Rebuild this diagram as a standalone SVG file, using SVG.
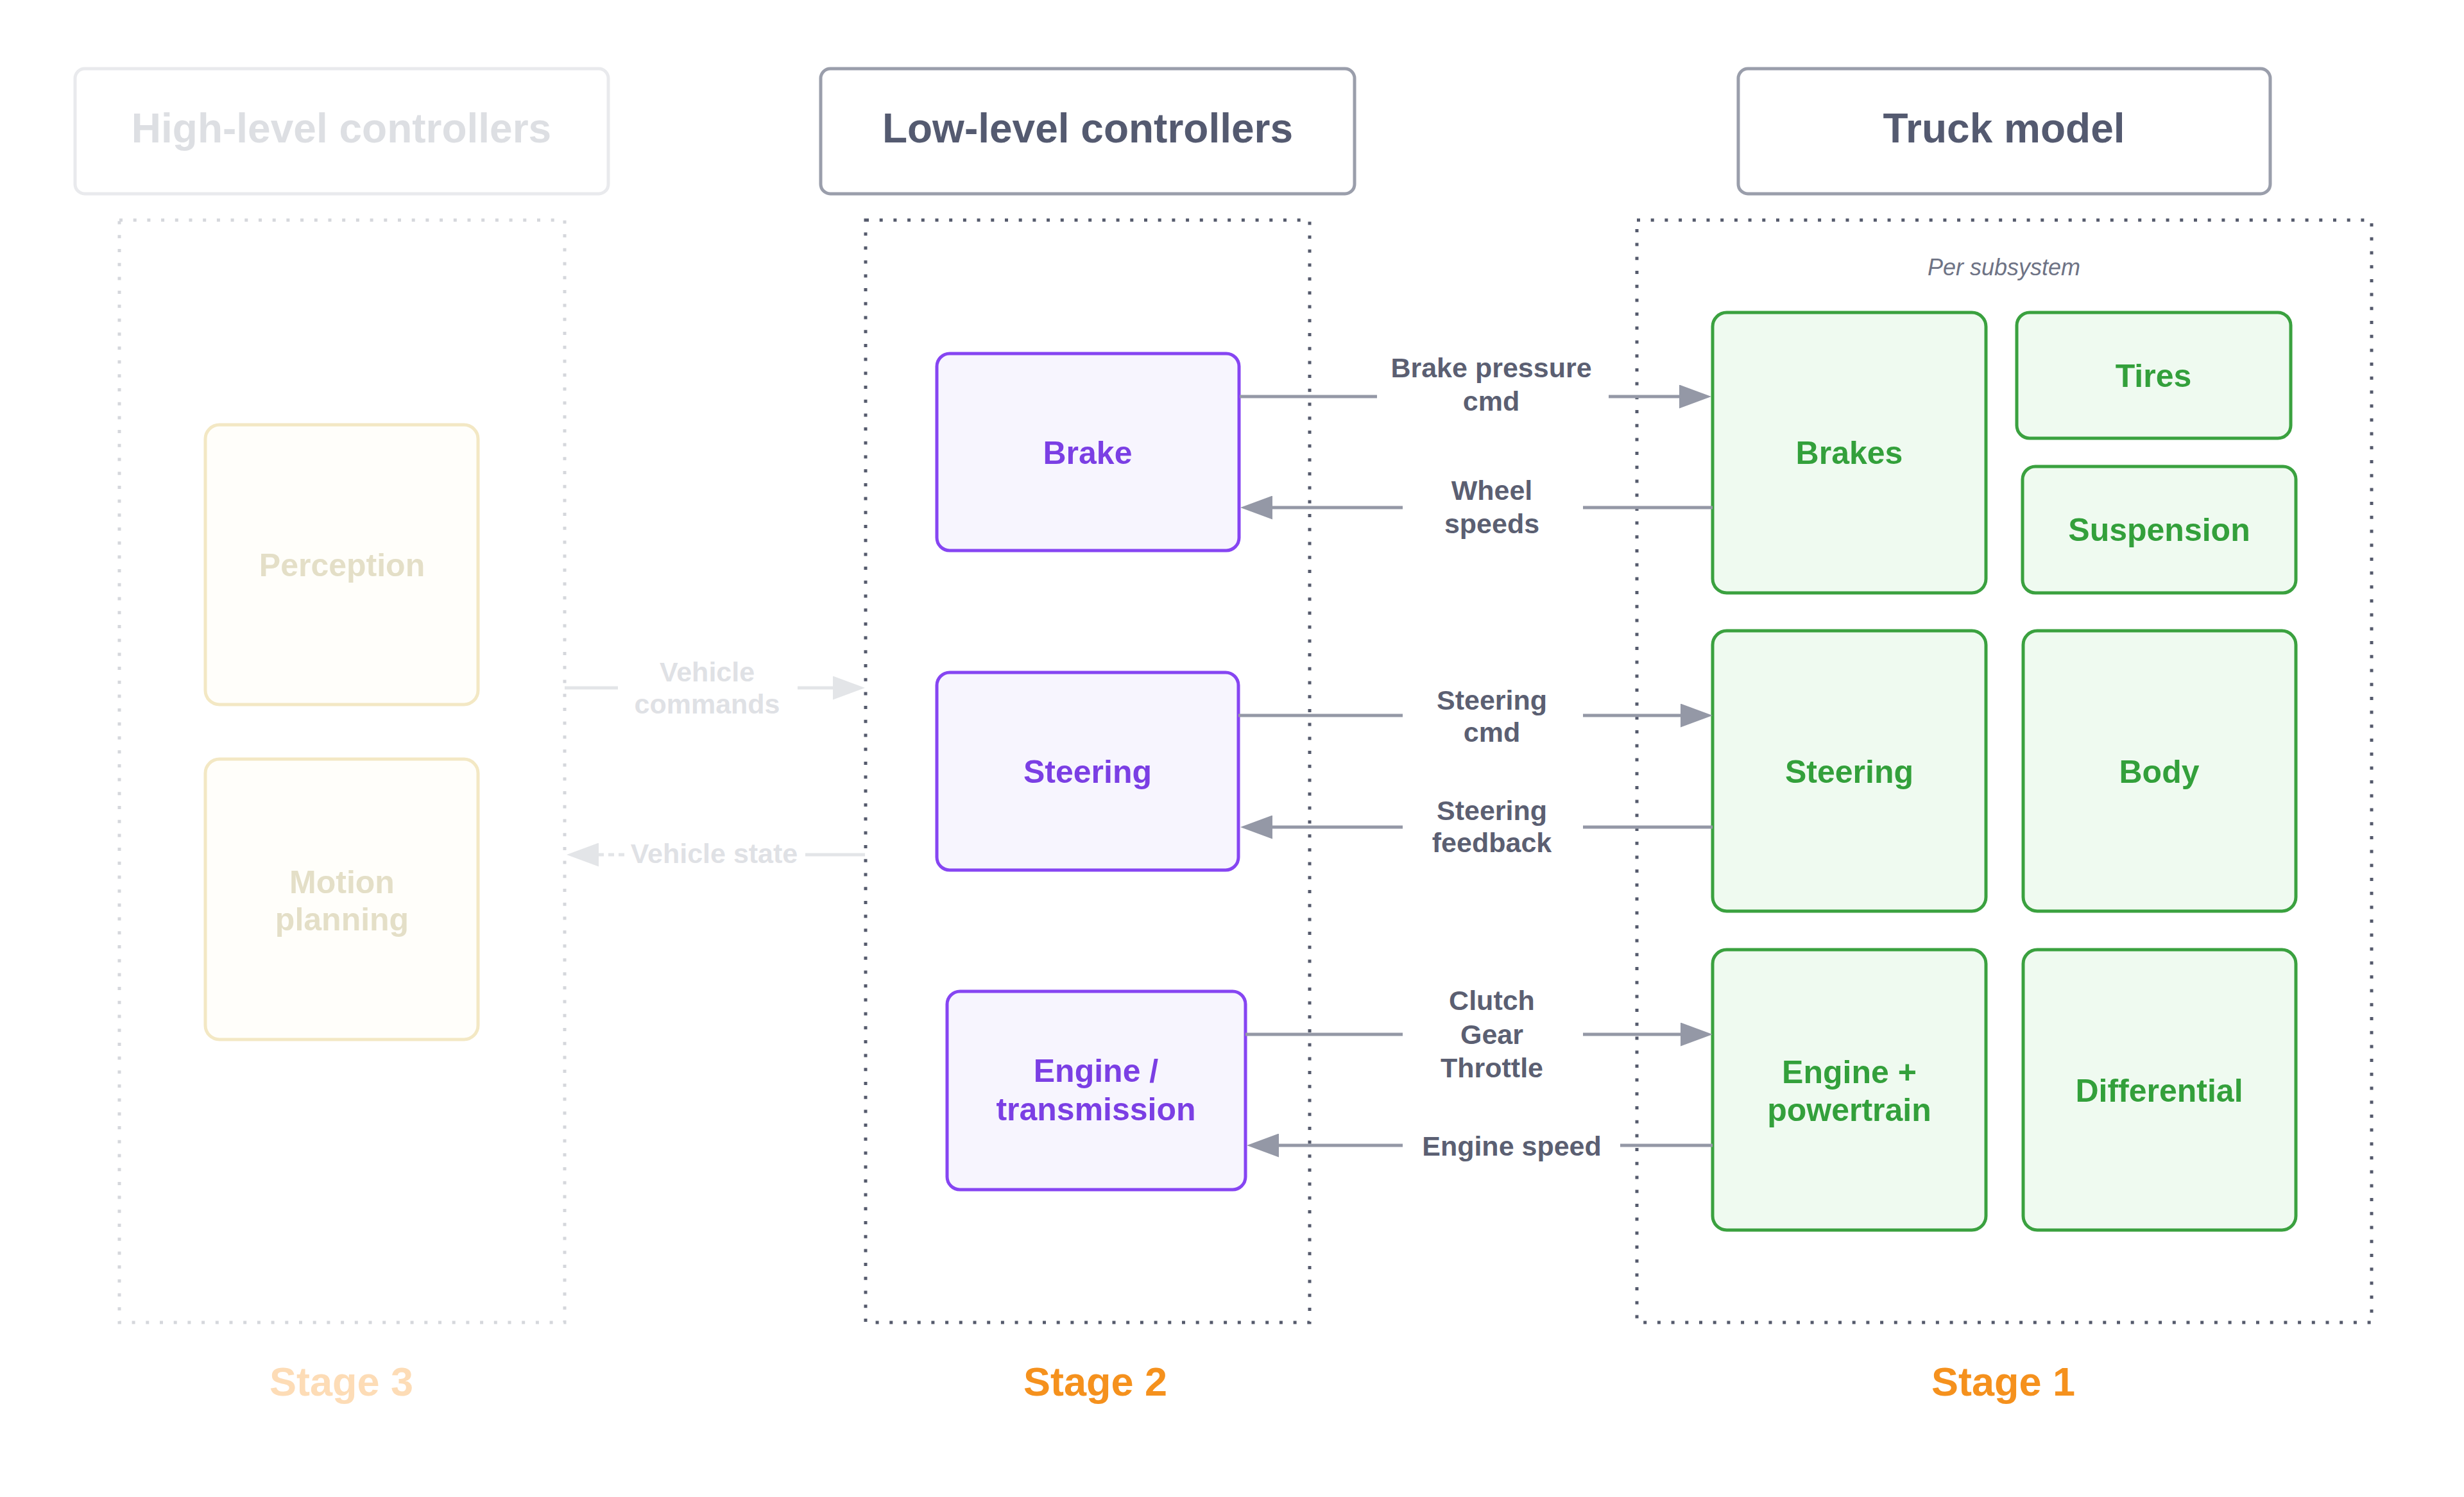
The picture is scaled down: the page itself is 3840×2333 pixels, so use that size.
<svg xmlns="http://www.w3.org/2000/svg" width="3840" height="2333" viewBox="0 0 3840 2333">
<style>
text{font-family:"Liberation Sans",Arial,Helvetica,sans-serif;font-weight:bold;text-anchor:middle}
.hdr{fill:#fff;stroke:#9a9eab;stroke-width:5}
.hdrt{font-size:64px;fill:#545a70}
.hdrF{fill:#fff;stroke:#e9eaed;stroke-width:5}
.hdrtF{font-size:64px;fill:#dddfe3}
.dot{fill:none;stroke:#555a6c;stroke-width:5;stroke-dasharray:5 16.7}
.dotF{fill:none;stroke:#d5d7dc;stroke-width:5;stroke-dasharray:5 16.7}
.stage{font-size:63px;fill:#f5911d}
.stageF{font-size:63px;fill:#fddcb6}
.pur{fill:#f7f5fe;stroke:#8645f2;stroke-width:5}
.purt{font-size:50px;fill:#7b3fe4}
.grn{fill:#effaf0;stroke:#3aa13f;stroke-width:5}
.grnt{font-size:50px;fill:#33a03b}
.yel{fill:#fffefa;stroke:#f3e8c4;stroke-width:5}
.yelt{font-size:50px;fill:#e4dfc7}
.lbl{font-size:43px;fill:#5b5f72}
.lblF{font-size:43px;fill:#dfe1e5}
.ln{fill:none;stroke:#9498a6;stroke-width:5}
.lnF{fill:none;stroke:#e3e5e8;stroke-width:5}
.note{font-size:36px;font-weight:normal;font-style:italic;fill:#6e7385}
</style>
<defs>
<marker id="ah" markerUnits="userSpaceOnUse" markerWidth="50" markerHeight="37" refX="10" refY="18.5" orient="auto" viewBox="0 0 50 37">
<path d="M0,0 L50,18.5 L0,37 Z" fill="#9498a6"/>
</marker>
<marker id="ahF" markerUnits="userSpaceOnUse" markerWidth="50" markerHeight="37" refX="10" refY="18.5" orient="auto" viewBox="0 0 50 37">
<path d="M0,0 L50,18.5 L0,37 Z" fill="#e3e5e8"/>
</marker>
</defs>
<rect width="3840" height="2333" fill="#ffffff"/>

<g id="stage3">
<rect class="hdrF" x="117" y="107" width="831" height="195" rx="15"/>
<text class="hdrtF" x="532" y="222">High-level controllers</text>
<rect class="dotF" x="186" y="343" width="694" height="1718"/>
<text class="stageF" x="532" y="2175">Stage 3</text>
</g>

<g id="stage2">
<rect class="hdr" x="1279" y="107" width="832" height="195" rx="15"/>
<text class="hdrt" x="1695" y="222">Low-level controllers</text>
<rect class="dot" x="1349" y="343" width="692" height="1718"/>
<text class="stage" x="1707" y="2175">Stage 2</text>
</g>

<g id="stage1">
<rect class="hdr" x="2709" y="107" width="829" height="195" rx="15"/>
<text class="hdrt" x="3123" y="222">Truck model</text>
<rect class="dot" x="2551" y="343" width="1145" height="1718"/>
<text class="stage" x="3122" y="2175">Stage 1</text>
<text class="note" x="3123" y="429">Per subsystem</text>
</g>

<g id="perception">
<rect class="yel" x="320" y="662" width="425" height="436" rx="22"/>
<text class="yelt" x="533" y="898">Perception</text>
</g>
<g id="motion-planning">
<rect class="yel" x="320" y="1183" width="425" height="437" rx="22"/>
<text class="yelt" x="533" y="1392">Motion</text>
<text class="yelt" x="533" y="1450">planning</text>
</g>

<g id="ctrl-brake">
<rect class="pur" x="1460" y="551" width="471" height="307" rx="20"/>
<text class="purt" x="1695" y="723">Brake</text>
</g>
<g id="ctrl-steering">
<rect class="pur" x="1460" y="1048" width="470" height="308" rx="20"/>
<text class="purt" x="1695" y="1220">Steering</text>
</g>
<g id="ctrl-engine">
<rect class="pur" x="1476" y="1545" width="465" height="309" rx="20"/>
<text class="purt" x="1708" y="1686">Engine /</text>
<text class="purt" x="1708" y="1746">transmission</text>
</g>

<g id="brakes">
<rect class="grn" x="2669" y="487" width="426" height="437" rx="22"/>
<text class="grnt" x="2882" y="723">Brakes</text>
</g>
<g id="tires">
<rect class="grn" x="3143" y="487" width="427" height="196" rx="20"/>
<text class="grnt" x="3356" y="603">Tires</text>
</g>
<g id="suspension">
<rect class="grn" x="3152" y="727" width="426" height="197" rx="20"/>
<text class="grnt" x="3365" y="843">Suspension</text>
</g>
<g id="steering">
<rect class="grn" x="2669" y="983" width="426" height="437" rx="22"/>
<text class="grnt" x="2882" y="1220">Steering</text>
</g>
<g id="body">
<rect class="grn" x="3153" y="983" width="425" height="437" rx="22"/>
<text class="grnt" x="3365" y="1220">Body</text>
</g>
<g id="engine-powertrain">
<rect class="grn" x="2669" y="1480" width="426" height="437" rx="22"/>
<text class="grnt" x="2882" y="1688">Engine +</text>
<text class="grnt" x="2882" y="1747">powertrain</text>
</g>
<g id="differential">
<rect class="grn" x="3153" y="1480" width="425" height="437" rx="22"/>
<text class="grnt" x="3365" y="1717">Differential</text>
</g>

<g id="connectors">
<!-- Vehicle commands -->
<path class="lnF" d="M880,1072 H963"/>
<path class="lnF" d="M1243,1072 H1308" marker-end="url(#ahF)"/>
<text class="lblF" x="1102" y="1062">Vehicle</text>
<text class="lblF" x="1102" y="1112">commands</text>
<!-- Vehicle state -->
<path class="lnF" d="M1348,1332 H1255"/>
<path class="lnF" d="M973,1332 H923" stroke-dasharray="9 7" marker-end="url(#ahF)"/>
<text class="lblF" x="1113" y="1345">Vehicle state</text>

<!-- Brake pressure cmd -->
<path class="ln" d="M1932,618 H2146"/>
<path class="ln" d="M2507,618 H2627" marker-end="url(#ah)"/>
<text class="lbl" x="2324" y="588">Brake pressure</text>
<text class="lbl" x="2324" y="640">cmd</text>
<!-- Wheel speeds -->
<path class="ln" d="M2669,791 H2467"/>
<path class="ln" d="M2186,791 H1973" marker-end="url(#ah)"/>
<text class="lbl" x="2325" y="779">Wheel</text>
<text class="lbl" x="2325" y="831">speeds</text>
<!-- Steering cmd -->
<path class="ln" d="M1930,1115 H2186"/>
<path class="ln" d="M2467,1115 H2629" marker-end="url(#ah)"/>
<text class="lbl" x="2325" y="1106">Steering</text>
<text class="lbl" x="2325" y="1156">cmd</text>
<!-- Steering feedback -->
<path class="ln" d="M2669,1289 H2467"/>
<path class="ln" d="M2186,1289 H1973" marker-end="url(#ah)"/>
<text class="lbl" x="2325" y="1278">Steering</text>
<text class="lbl" x="2325" y="1328">feedback</text>
<!-- Clutch Gear Throttle -->
<path class="ln" d="M1941,1612 H2186"/>
<path class="ln" d="M2467,1612 H2629" marker-end="url(#ah)"/>
<text class="lbl" x="2325" y="1574">Clutch</text>
<text class="lbl" x="2325" y="1627">Gear</text>
<text class="lbl" x="2325" y="1679">Throttle</text>
<!-- Engine speed -->
<path class="ln" d="M2669,1785 H2525"/>
<path class="ln" d="M2186,1785 H1983" marker-end="url(#ah)"/>
<text class="lbl" x="2356" y="1801">Engine speed</text>
</g>
</svg>
